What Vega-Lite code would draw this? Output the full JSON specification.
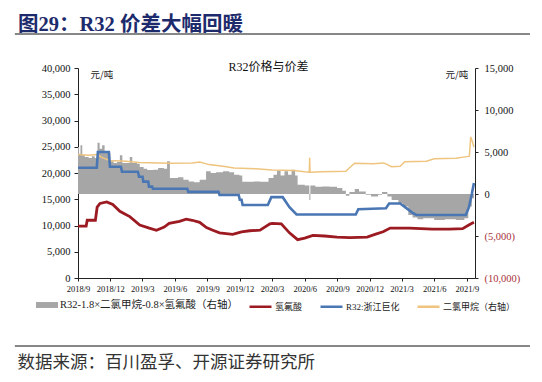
{
  "$schema": "https://vega.github.io/schema/vega-lite/v6.json",
  "width": 397,
  "height": 210,
  "autosize": {"type": "none"},
  "padding": {"left": 78, "top": 68, "right": 67, "bottom": 104},
  "background": "white",
  "config": {"view": {"stroke": null}, "font": "Liberation Serif, Noto Sans CJK SC"},
  "title": {
    "text": "图29：R32 价差大幅回暖",
    "anchor": "start",
    "frame": "group",
    "dx": -60,
    "dy": 22,
    "offset": 0,
    "baseline": "bottom",
    "font": "Liberation Serif, Noto Sans CJK SC",
    "fontSize": 20.5,
    "fontWeight": "bold",
    "color": "#1d2b6c"
  },
  "datasets": {
    "spread": [
      {"date": "2018-09-01", "value": 5600}, {"date": "2018-09-04", "value": 4800}, {"date": "2018-09-08", "value": 5800},
      {"date": "2018-09-13", "value": 4600}, {"date": "2018-09-20", "value": 4400}, {"date": "2018-10-01", "value": 4300},
      {"date": "2018-10-10", "value": 4500}, {"date": "2018-10-18", "value": 4300}, {"date": "2018-10-26", "value": 6100},
      {"date": "2018-11-01", "value": 5400}, {"date": "2018-11-08", "value": 5800}, {"date": "2018-11-15", "value": 5000},
      {"date": "2018-11-23", "value": 4900}, {"date": "2018-12-01", "value": 3900}, {"date": "2018-12-10", "value": 3700},
      {"date": "2018-12-20", "value": 3800}, {"date": "2018-12-28", "value": 4600}, {"date": "2019-01-04", "value": 3700},
      {"date": "2019-01-15", "value": 3700}, {"date": "2019-01-25", "value": 4400}, {"date": "2019-02-01", "value": 3700},
      {"date": "2019-02-14", "value": 3600}, {"date": "2019-02-22", "value": 3200}, {"date": "2019-03-05", "value": 3000},
      {"date": "2019-03-15", "value": 2850}, {"date": "2019-04-01", "value": 2900}, {"date": "2019-04-15", "value": 3100},
      {"date": "2019-05-01", "value": 3000}, {"date": "2019-05-10", "value": 3900}, {"date": "2019-05-18", "value": 1900},
      {"date": "2019-06-10", "value": 2000}, {"date": "2019-06-25", "value": 1700}, {"date": "2019-07-10", "value": 1500},
      {"date": "2019-07-25", "value": 1400}, {"date": "2019-08-10", "value": 1700}, {"date": "2019-08-28", "value": 2700},
      {"date": "2019-09-10", "value": 2500}, {"date": "2019-09-25", "value": 2600}, {"date": "2019-10-15", "value": 2700},
      {"date": "2019-11-01", "value": 2600}, {"date": "2019-11-15", "value": 2300}, {"date": "2019-11-30", "value": 2200},
      {"date": "2019-12-08", "value": 1450}, {"date": "2020-01-10", "value": 1500}, {"date": "2020-01-28", "value": 1450},
      {"date": "2020-02-20", "value": 1900}, {"date": "2020-03-05", "value": 2300}, {"date": "2020-03-15", "value": 2800},
      {"date": "2020-03-25", "value": 2200}, {"date": "2020-04-05", "value": 2700}, {"date": "2020-04-15", "value": 2300},
      {"date": "2020-04-25", "value": 2900}, {"date": "2020-05-05", "value": 2200}, {"date": "2020-05-12", "value": 1100},
      {"date": "2020-06-01", "value": 1000}, {"date": "2020-06-14", "value": -700}, {"date": "2020-06-17", "value": 1000},
      {"date": "2020-07-01", "value": 850}, {"date": "2020-07-20", "value": 900}, {"date": "2020-08-10", "value": 850},
      {"date": "2020-08-31", "value": 700}, {"date": "2020-09-15", "value": 400}, {"date": "2020-09-25", "value": -200},
      {"date": "2020-10-05", "value": 250}, {"date": "2020-10-20", "value": 600}, {"date": "2020-11-01", "value": 300},
      {"date": "2020-11-20", "value": -100}, {"date": "2020-12-05", "value": -300}, {"date": "2020-12-25", "value": -100},
      {"date": "2021-01-05", "value": 250}, {"date": "2021-01-20", "value": -300}, {"date": "2021-02-01", "value": -700},
      {"date": "2021-02-20", "value": -1100}, {"date": "2021-03-05", "value": -1500}, {"date": "2021-03-20", "value": -2500},
      {"date": "2021-04-01", "value": -2800}, {"date": "2021-04-15", "value": -3000}, {"date": "2021-05-01", "value": -2900},
      {"date": "2021-06-01", "value": -3100}, {"date": "2021-07-01", "value": -3000}, {"date": "2021-08-01", "value": -3100},
      {"date": "2021-08-25", "value": -2900}, {"date": "2021-09-05", "value": -1500}, {"date": "2021-09-15", "value": -500},
      {"date": "2021-09-21", "value": 500}
    ],
    "dcm": [
      {"date": "2018-09-01", "value": 4700}, {"date": "2018-10-01", "value": 4600}, {"date": "2018-10-24", "value": 4700},
      {"date": "2018-11-10", "value": 4300}, {"date": "2018-11-30", "value": 4000}, {"date": "2019-01-15", "value": 3900},
      {"date": "2019-02-20", "value": 3750}, {"date": "2019-05-15", "value": 3650}, {"date": "2019-07-20", "value": 3700},
      {"date": "2019-08-10", "value": 3800}, {"date": "2019-09-05", "value": 3500}, {"date": "2019-10-15", "value": 3300},
      {"date": "2019-11-15", "value": 3100}, {"date": "2020-01-15", "value": 3000}, {"date": "2020-03-01", "value": 2850},
      {"date": "2020-05-01", "value": 2800}, {"date": "2020-06-01", "value": 2650}, {"date": "2020-06-14", "value": 2600},
      {"date": "2020-06-15", "value": 4300}, {"date": "2020-06-16", "value": 2600}, {"date": "2020-07-20", "value": 2650},
      {"date": "2020-09-25", "value": 2700}, {"date": "2020-10-10", "value": 3300}, {"date": "2020-10-20", "value": 3650},
      {"date": "2020-12-10", "value": 3600}, {"date": "2021-01-10", "value": 3700}, {"date": "2021-02-01", "value": 3250},
      {"date": "2021-02-25", "value": 3300}, {"date": "2021-03-10", "value": 3850}, {"date": "2021-05-10", "value": 3900},
      {"date": "2021-06-01", "value": 4200}, {"date": "2021-08-01", "value": 4250}, {"date": "2021-09-01", "value": 4450},
      {"date": "2021-09-08", "value": 4500}, {"date": "2021-09-12", "value": 6800}, {"date": "2021-09-16", "value": 6300},
      {"date": "2021-09-21", "value": 5600}
    ],
    "hf": [
      {"date": "2018-09-01", "value": 9900}, {"date": "2018-09-24", "value": 9900}, {"date": "2018-09-27", "value": 11000},
      {"date": "2018-10-20", "value": 11000}, {"date": "2018-10-25", "value": 13500}, {"date": "2018-11-02", "value": 14200},
      {"date": "2018-11-21", "value": 14500}, {"date": "2018-12-08", "value": 14000}, {"date": "2018-12-28", "value": 12700},
      {"date": "2019-01-11", "value": 12200}, {"date": "2019-01-25", "value": 11700}, {"date": "2019-02-22", "value": 10100},
      {"date": "2019-03-21", "value": 9500}, {"date": "2019-04-10", "value": 9100}, {"date": "2019-05-02", "value": 9700},
      {"date": "2019-05-16", "value": 10400}, {"date": "2019-06-14", "value": 10800}, {"date": "2019-07-03", "value": 11200},
      {"date": "2019-07-20", "value": 11000}, {"date": "2019-08-10", "value": 10600}, {"date": "2019-08-29", "value": 9600},
      {"date": "2019-09-16", "value": 9100}, {"date": "2019-10-05", "value": 8600}, {"date": "2019-11-11", "value": 8300},
      {"date": "2019-12-06", "value": 8800}, {"date": "2019-12-29", "value": 9000}, {"date": "2020-01-27", "value": 9100},
      {"date": "2020-02-24", "value": 10300}, {"date": "2020-03-02", "value": 10400}, {"date": "2020-03-27", "value": 10300},
      {"date": "2020-04-19", "value": 8600}, {"date": "2020-05-12", "value": 7300}, {"date": "2020-06-01", "value": 7600},
      {"date": "2020-06-24", "value": 8100}, {"date": "2020-07-27", "value": 8000}, {"date": "2020-08-31", "value": 7800},
      {"date": "2020-10-06", "value": 7700}, {"date": "2020-11-24", "value": 7800}, {"date": "2020-12-16", "value": 8300},
      {"date": "2021-01-08", "value": 8800}, {"date": "2021-01-28", "value": 9500}, {"date": "2021-03-23", "value": 9500},
      {"date": "2021-05-27", "value": 9300}, {"date": "2021-07-14", "value": 9300}, {"date": "2021-08-20", "value": 9400},
      {"date": "2021-09-09", "value": 10200}, {"date": "2021-09-21", "value": 10600}
    ],
    "r32": [
      {"date": "2018-09-01", "value": 21000}, {"date": "2018-10-24", "value": 21000}, {"date": "2018-10-27", "value": 24000},
      {"date": "2018-11-27", "value": 24000}, {"date": "2018-11-30", "value": 21200}, {"date": "2018-12-31", "value": 21200},
      {"date": "2019-01-03", "value": 20250}, {"date": "2019-02-17", "value": 20250}, {"date": "2019-02-20", "value": 19300},
      {"date": "2019-03-02", "value": 19300}, {"date": "2019-03-04", "value": 18350}, {"date": "2019-03-18", "value": 18350},
      {"date": "2019-03-20", "value": 17400}, {"date": "2019-03-29", "value": 17400}, {"date": "2019-03-31", "value": 17000},
      {"date": "2019-07-06", "value": 17000}, {"date": "2019-07-09", "value": 16400}, {"date": "2019-10-02", "value": 16400},
      {"date": "2019-10-05", "value": 15800}, {"date": "2019-11-28", "value": 15800}, {"date": "2019-12-01", "value": 14900},
      {"date": "2019-12-06", "value": 14900}, {"date": "2019-12-09", "value": 13900}, {"date": "2020-02-18", "value": 13900},
      {"date": "2020-02-28", "value": 15400}, {"date": "2020-03-31", "value": 15400}, {"date": "2020-04-19", "value": 13500},
      {"date": "2020-05-09", "value": 12100}, {"date": "2020-10-23", "value": 12100}, {"date": "2020-10-30", "value": 13100},
      {"date": "2021-01-16", "value": 13300}, {"date": "2021-01-25", "value": 14200}, {"date": "2021-02-25", "value": 14200},
      {"date": "2021-03-09", "value": 13600}, {"date": "2021-04-01", "value": 12400}, {"date": "2021-04-12", "value": 12000},
      {"date": "2021-08-29", "value": 12000}, {"date": "2021-09-07", "value": 13500}, {"date": "2021-09-15", "value": 16000},
      {"date": "2021-09-21", "value": 18100}
    ]
  },
  "layer": [
    {
      "layer": [
        {
          "data": {"name": "spread"},
          "mark": {"type": "area", "interpolate": "step-after", "opacity": 1},
          "encoding": {
            "x": {
              "field": "date", "type": "temporal",
              "scale": {"type": "utc", "domain": [{"year": 2018, "month": 9, "date": 1, "utc": true}, {"year": 2021, "month": 9, "date": 24, "utc": true}]},
              "axis": {"orient": "top", "labels": false, "ticks": false, "domain": false, "grid": false,
                       "title": "R32价格与价差", "titleFont": "Liberation Serif, Noto Sans CJK SC", "titleFontSize": 12,
                       "titleFontWeight": "normal", "titleColor": "#111", "titleX": 190, "titleY": -2,
                       "titleAlign": "center", "titleBaseline": "middle"}
            },
            "y": {
              "field": "value", "type": "quantitative",
              "scale": {"domain": [-10000, 15000], "nice": false, "zero": false},
              "axis": {"orient": "right", "values": [-10000, -5000, 0, 5000, 10000, 15000],
                       "labelExpr": "datum.value < 0 ? '(' + format(-datum.value, ',') + ')' : format(datum.value, ',')",
                       "labelColor": {"condition": {"test": "datum.value < 0", "value": "#a8323a"}, "value": "#111"},
                       "labelFont": "Liberation Serif", "labelFontSize": 10.5, "labelPadding": 6,
                       "tickSize": 3, "tickColor": "#222", "domainColor": "#222", "grid": false,
                       "title": "元/吨", "titleAngle": 0, "titleX": -30, "titleY": 6, "titleAlign": "left",
                       "titleBaseline": "middle", "titleFont": "Noto Sans CJK SC", "titleFontSize": 9.5,
                       "titleFontWeight": "normal", "titleColor": "#222"}
            },
            "y2": {"datum": 0},
            "fill": {
              "datum": "R32-1.8×二氯甲烷-0.8×氢氟酸（右轴）",
              "scale": {"domain": ["R32-1.8×二氯甲烷-0.8×氢氟酸（右轴）"], "range": ["#a6a6a6"]},
              "legend": {
                "orient": "none", "legendX": -42, "legendY": 226, "direction": "horizontal", "title": null,
                "labelFont": "Liberation Serif, Noto Sans CJK SC", "labelFontSize": 10.5, "labelColor": "#222",
                "symbolType": "M-1,-0.27L1,-0.27L1,0.27L-1,0.27Z", "symbolSize": 484, "symbolStrokeWidth": 0,
                "symbolOpacity": 1, "labelOffset": 2, "labelLimit": 400
              }
            }
          }
        },
        {
          "data": {"name": "dcm"},
          "mark": {"type": "line", "strokeWidth": 1.5},
          "encoding": {
            "x": {"field": "date", "type": "temporal",
                  "scale": {"type": "utc", "domain": [{"year": 2018, "month": 9, "date": 1, "utc": true}, {"year": 2021, "month": 9, "date": 24, "utc": true}]}},
            "y": {"field": "value", "type": "quantitative"},
            "stroke": {
              "datum": "二氯甲烷（右轴）",
              "scale": {"domain": ["氢氟酸", "R32:浙江巨化", "二氯甲烷（右轴）"], "range": ["#9c1a21", "#4a77b4", "#efc47f"]},
              "legend": {
                "orient": "none", "legendX": 170, "legendY": 226, "direction": "horizontal", "title": null,
                "labelFont": "Liberation Serif, Noto Sans CJK SC", "labelFontSize": 9, "labelColor": "#222",
                "symbolType": "stroke", "symbolSize": 484, "symbolStrokeWidth": 2.5, "symbolOpacity": 1,
                "labelOffset": 2, "columnPadding": 12, "labelLimit": 400
              }
            }
          }
        }
      ]
    },
    {
      "encoding": {
        "x": {
          "field": "date", "type": "temporal",
          "scale": {"type": "utc", "domain": [{"year": 2018, "month": 9, "date": 1, "utc": true}, {"year": 2021, "month": 9, "date": 24, "utc": true}]},
          "axis": {"orient": "bottom", "labelExpr": "utcFormat(datum.value, '%Y/%-m')", "grid": false,
                   "values": [
                     {"year": 2018, "month": 9, "date": 1, "utc": true}, {"year": 2018, "month": 12, "date": 1, "utc": true},
                     {"year": 2019, "month": 3, "date": 1, "utc": true}, {"year": 2019, "month": 6, "date": 1, "utc": true},
                     {"year": 2019, "month": 9, "date": 1, "utc": true}, {"year": 2019, "month": 12, "date": 1, "utc": true},
                     {"year": 2020, "month": 3, "date": 1, "utc": true}, {"year": 2020, "month": 6, "date": 1, "utc": true},
                     {"year": 2020, "month": 9, "date": 1, "utc": true}, {"year": 2020, "month": 12, "date": 1, "utc": true},
                     {"year": 2021, "month": 3, "date": 1, "utc": true}, {"year": 2021, "month": 6, "date": 1, "utc": true},
                     {"year": 2021, "month": 9, "date": 1, "utc": true}],
                   "labelFont": "Liberation Serif", "labelFontSize": 8.5, "labelColor": "#111", "labelPadding": 3,
                   "labelFlush": false, "labelOverlap": false,
                   "tickSize": 3, "tickColor": "#222", "domainColor": "#222",
                   "title": "数据来源：百川盈孚、开源证券研究所", "titleFont": "Noto Sans CJK SC", "titleFontSize": 17.5,
                   "titleFontWeight": "normal", "titleColor": "#333", "titleX": -61, "titleY": 84,
                   "titleAlign": "left", "titleBaseline": "middle"}
        },
        "y": {
          "field": "value", "type": "quantitative",
          "scale": {"domain": [0, 40000], "nice": false},
          "axis": {"orient": "left", "values": [0, 5000, 10000, 15000, 20000, 25000, 30000, 35000, 40000],
                   "labelExpr": "format(datum.value, ',')", "labelFont": "Liberation Serif", "labelFontSize": 10.5, "labelColor": "#111",
                   "labelPadding": 4, "tickSize": 4, "tickColor": "#222", "domainColor": "#222", "grid": false,
                   "title": "元/吨", "titleAngle": 0, "titleX": 12, "titleY": 6, "titleAlign": "left",
                   "titleBaseline": "middle", "titleFont": "Noto Sans CJK SC", "titleFontSize": 9.5,
                   "titleFontWeight": "normal", "titleColor": "#222"}
        }
      },
      "layer": [
        {
          "data": {"name": "hf"},
          "mark": {"type": "line", "strokeWidth": 2.8},
          "encoding": {"stroke": {"datum": "氢氟酸"}}
        },
        {
          "data": {"name": "r32"},
          "mark": {"type": "line", "strokeWidth": 2.6},
          "encoding": {"stroke": {"datum": "R32:浙江巨化"}}
        },
        {
          "data": {"values": [{"date": "2018-03-07", "date2": "2022-02-26", "value": 46480}, {"date": "2018-03-07", "date2": "2022-02-26", "value": -12950}]},
          "mark": {"type": "rule", "color": "#111", "strokeWidth": 1.2, "clip": false},
          "encoding": {
            "x2": {"field": "date2"}
          }
        }
      ]
    }
  ],
  "resolve": {"scale": {"y": "independent"}, "axis": {"x": "independent"}}
}
